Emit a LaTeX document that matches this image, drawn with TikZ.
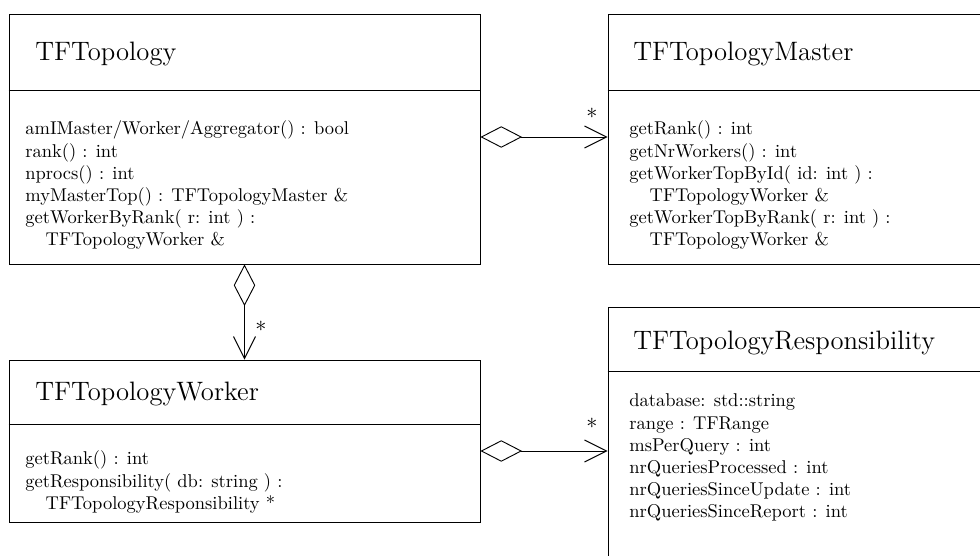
\documentclass[tikz,border=0pt]{standalone}
\usetikzlibrary{arrows.meta,fit}
\begin{document}
\begin{tikzpicture}[x=0.5405pt,y=-0.5405pt,
  box/.style={draw, line width=0.5pt, inner sep=0pt},
  divider/.style={line width=0.5pt},
  title/.style={anchor=base west, font=\Large, inner sep=0pt},
  member/.style={anchor=base west, inner sep=0pt},
  agg/.style={line width=0.5pt,
    {Diamond[open,length=22.5pt,width=11.6pt]}-{Straight Barb[length=11.9pt,width=11.9pt]}},
  mult/.style={inner sep=0pt, font=\large}]
\useasboundingbox (0,0) rectangle (980,556);
\clip (0,0) rectangle (980,556);

% class boxes
\node[box, fit={(9,14) (480,264)}] (topo) {};
\node[box, fit={(608,14) (1000,264)}] (master) {};
\node[box, fit={(9,360) (480,522)}] (worker) {};
\node[box, fit={(608,307) (1000,600)}] (resp) {};

% header separators
\draw[divider] (topo.west |- 0,90) -- (topo.east |- 0,90);
\draw[divider] (master.west |- 0,90) -- (master.east |- 0,90);
\draw[divider] (worker.west |- 0,424) -- (worker.east |- 0,424);
\draw[divider] (resp.west |- 0,371) -- (resp.east |- 0,371);

% class names
\node[title] (topo-name) at (35,61) {TFTopology};
\node[title] (master-name) at (633,61) {TFTopologyMaster};
\node[title] (worker-name) at (35,401) {TFTopologyWorker};
\node[title] (resp-name) at (633,350) {TFTopologyResponsibility};

% members
\foreach \t [count=\i] in {amIMaster/Worker/Aggregator() : bool, rank() : int,
    nprocs() : int, myMasterTop() : TFTopologyMaster \&,
    getWorkerByRank( r: int ) :, \hspace{11pt}TFTopologyWorker \&}
  \node[member] (topo-m\i) at (25,{135+22.2*(\i-1)}) {\t};

\foreach \t [count=\i] in {getRank() : int, getNrWorkers() : int,
    getWorkerTopById( id: int ) :, \hspace{11pt}TFTopologyWorker \&,
    getWorkerTopByRank( r: int ) :, \hspace{11pt}TFTopologyWorker \&}
  \node[member] (master-m\i) at (629,{135+22.2*(\i-1)}) {\t};

\foreach \t [count=\i] in {getRank() : int, getResponsibility( db: string ) :,
    \hspace{11pt}TFTopologyResponsibility *}
  \node[member] (worker-m\i) at (25,{465+22.2*(\i-1)}) {\t};

\foreach \t [count=\i] in {database: std::string, range : TFRange,
    msPerQuery : int, nrQueriesProcessed : int,
    nrQueriesSinceUpdate : int, nrQueriesSinceReport : int}
  \node[member] (resp-m\i) at (629,{407+22.2*(\i-1)}) {\t};

% aggregations
\draw[agg] (topo.east |- 0,137) -- (master.west |- 0,137);
\draw[agg] (topo.south) -- (worker.north);
\draw[agg] (worker.east |- 0,451) -- (resp.west |- 0,451);

% multiplicities
\node[mult] (mult-master) at (592,113) {$*$};
\node[mult] (mult-worker) at (261,326) {$*$};
\node[mult] (mult-resp) at (592,423) {$*$};
\end{tikzpicture}
\end{document}
